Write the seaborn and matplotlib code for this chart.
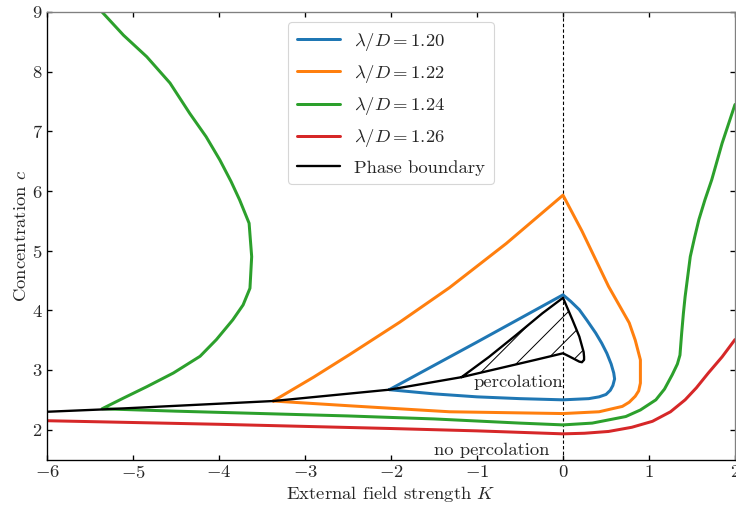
import numpy as np
import pandas as pd
import matplotlib
matplotlib.use("Agg")
import matplotlib.pyplot as plt
import seaborn as sns

# ---------------- data ----------------
blue_K = [-2.02, -1.01, 0.00, 0.09, 0.19, 0.28, 0.38, 0.45, 0.51, 0.56, 0.59, 0.60, 0.58, 0.55, 0.50,
          0.42, 0.30, 0.15, 0.00, -0.50, -1.00, -1.50, -2.02]
blue_c = [2.67, 3.46, 4.26, 4.15, 4.01, 3.83, 3.62, 3.45, 3.28, 3.10, 2.95, 2.85, 2.74, 2.66, 2.59,
          2.55, 2.52, 2.51, 2.50, 2.52, 2.55, 2.60, 2.67]

orange_K = [-3.37, -2.90, -2.48, -1.90, -1.32, -0.66, 0.00, 0.22, 0.53, 0.66, 0.77, 0.84, 0.88, 0.90,
            0.90, 0.88, 0.84, 0.77, 0.69, 0.42, 0.00, -1.32, -2.02, -2.48, -3.37]
orange_c = [2.48, 2.88, 3.26, 3.80, 4.38, 5.12, 5.93, 5.33, 4.40, 4.07, 3.79, 3.50, 3.28, 3.17,
            2.78, 2.65, 2.56, 2.46, 2.39, 2.30, 2.27, 2.30, 2.36, 2.40, 2.48]

green_K = [-5.36, -5.11, -4.84, -4.57, -4.34, -4.15, -3.99, -3.86, -3.76, -3.65, -3.62, -3.64,
           -3.72, -3.84, -4.03, -4.22, -4.53, -4.84, -5.11, -5.36,
           -4.50, -3.50, -2.50, -1.50, -0.50, 0.00, 0.34, 0.73, 0.90, 1.08, 1.18, 1.27, 1.33,
           1.36, 1.38, 1.40, 1.42, 1.48, 1.53, 1.58, 1.65, 1.73, 1.85, 2.00]
green_c = [9.00, 8.61, 8.25, 7.81, 7.30, 6.91, 6.52, 6.16, 5.85, 5.46, 4.90, 4.37,
           4.09, 3.84, 3.51, 3.23, 2.95, 2.72, 2.53, 2.35,
           2.31, 2.27, 2.23, 2.18, 2.11, 2.08, 2.11, 2.22, 2.33, 2.50, 2.68, 2.92, 3.10,
           3.25, 3.62, 3.95, 4.23, 4.90, 5.22, 5.52, 5.85, 6.19, 6.80, 7.45]

red_K = [-6.00, -4.00, -2.02, -1.00, 0.00, 0.25, 0.53, 0.80, 1.04, 1.25, 1.42, 1.55, 1.69, 1.85, 2.00]
red_c = [2.15, 2.09, 2.02, 1.98, 1.93, 1.94, 1.97, 2.04, 2.14, 2.30, 2.50, 2.70, 2.95, 3.22, 3.51]

boundary_K = [-6.00, -5.34, -3.37, -2.02, -1.18, -0.32, 0.00, 0.07, 0.19, 0.22, 0.245, 0.245, 0.24,
              0.19, 0.11, 0.00, -0.24, -0.55, -0.86, -1.18]
boundary_c = [2.30, 2.34, 2.48, 2.67, 2.88, 3.17, 3.28, 3.23, 3.14, 3.13, 3.17, 3.22, 3.30,
              3.56, 3.84, 4.21, 3.95, 3.58, 3.22, 2.88]
hatch_start = 4  # the percolating region is the closed loop from this index on

x_ticks = [-6, -5, -4, -3, -2, -1, 0, 1, 2]
y_ticks = [2, 3, 4, 5, 6, 7, 8, 9]

series = [
    (r"$\lambda/D = 1.20$", blue_K, blue_c, "#1f77b4"),
    (r"$\lambda/D = 1.22$", orange_K, orange_c, "#ff7f0e"),
    (r"$\lambda/D = 1.24$", green_K, green_c, "#2ca02c"),
    (r"$\lambda/D = 1.26$", red_K, red_c, "#d62728"),
]

# ---------------- style ----------------
sns.set_style("ticks")
plt.rcParams["font.family"] = ["cmr10", "DejaVu Serif"]
plt.rcParams["mathtext.fontset"] = "cm"
plt.rcParams["axes.formatter.use_mathtext"] = True
plt.rcParams["hatch.linewidth"] = 0.45
FS = 8.4

DPI = 160
fig = plt.figure(figsize=(736 / DPI, 507 / DPI), dpi=DPI)
ax = fig.add_axes([47 / 736, 1 - 459.5 / 507, (735 - 47) / 736, (459.5 - 12) / 507])

for label, K, c, col in series:
    df = pd.DataFrame({"K": K, "c": c})
    sns.lineplot(data=df, x="K", y="c", sort=False, estimator=None, color=col,
                 lw=1.35, label=label, ax=ax)

dfb = pd.DataFrame({"K": boundary_K, "c": boundary_c})
sns.lineplot(data=dfb, x="K", y="c", sort=False, estimator=None, color="black",
             lw=1.05, label="Phase boundary", ax=ax)
ax.fill(boundary_K[hatch_start:], boundary_c[hatch_start:], facecolor="none",
        edgecolor="black", hatch="//", lw=0)

ax.axvline(0, color="black", lw=0.5, ls=(0, (3, 2)), zorder=0)

ax.text(-0.52, 2.80, "percolation", fontsize=FS, ha="center", va="center")
ax.text(-0.83, 1.66, "no percolation", fontsize=FS, ha="center", va="center")

ax.set_xlim(-6, 2)
ax.set_ylim(1.5, 9)
ax.set_xticks(x_ticks)
ax.set_yticks(y_ticks)
ax.set_xlabel(r"External field strength $K$", fontsize=FS, labelpad=1.5)
ax.set_ylabel(r"Concentration $c$", fontsize=FS, labelpad=1)
ax.tick_params(direction="in", top=True, right=True, length=2.2, width=0.6,
               labelsize=FS, pad=2, color="black")
for s in ["left", "bottom"]:
    ax.spines[s].set_color("black")
    ax.spines[s].set_linewidth(0.6)
for s in ["top", "right"]:
    ax.spines[s].set_color("0.5")
    ax.spines[s].set_linewidth(0.6)

leg = ax.legend(loc="upper center", fontsize=FS, frameon=True, handlelength=2.3,
                labelspacing=0.55, borderpad=0.45, handletextpad=0.8, borderaxespad=0.55)
leg.get_frame().set_edgecolor("0.8")
leg.get_frame().set_linewidth(0.5)

fig.savefig("out.png", dpi=DPI)
